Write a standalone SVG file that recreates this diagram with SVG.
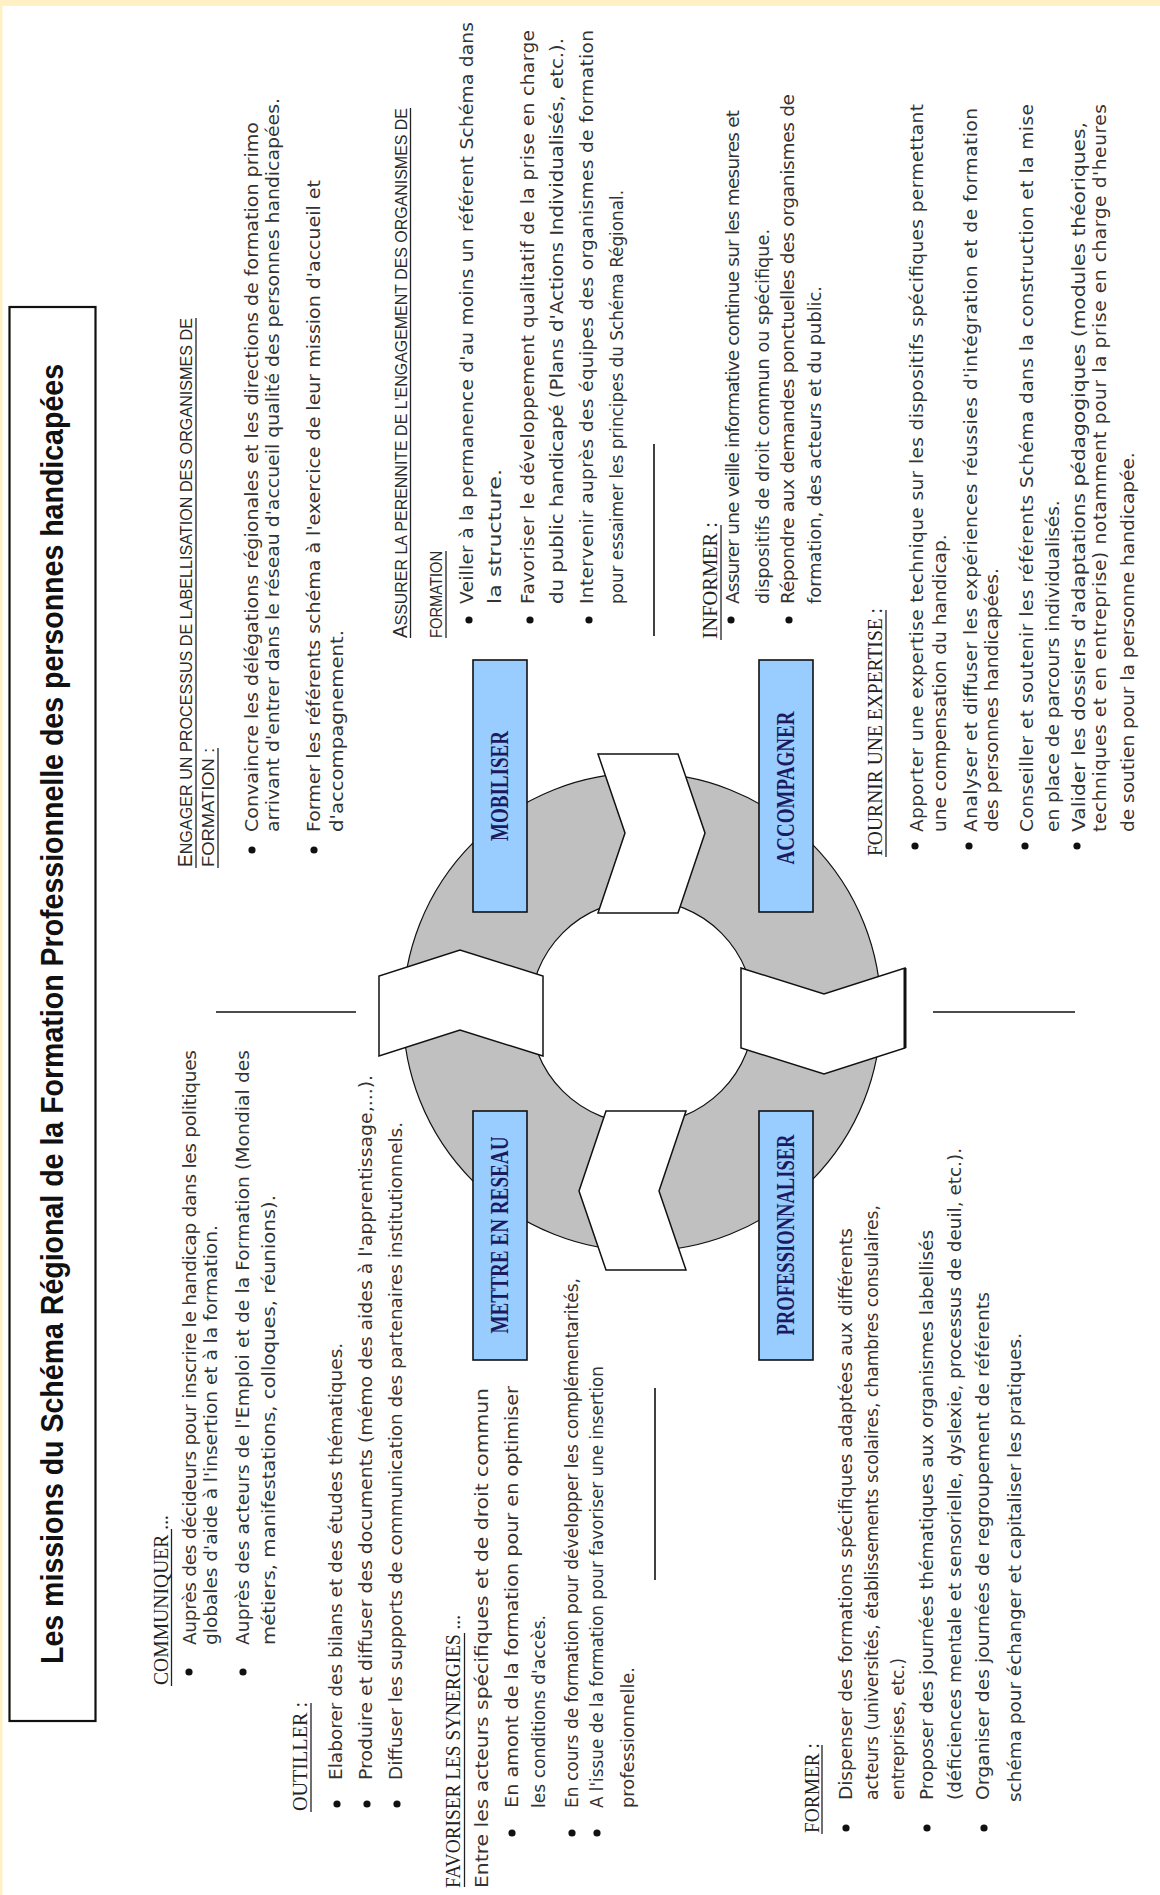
<svg xmlns="http://www.w3.org/2000/svg" width="1160" height="1895" viewBox="0 0 1160 1895">
<style>
.b{font-family:"DejaVu Sans",sans-serif;font-size:18.5px;fill:#333}
.f{font-size:17.5px}
.h{font-family:"Liberation Serif",serif;font-size:20px;fill:#222}
.s{font-family:"Liberation Sans",sans-serif;font-size:17px;fill:#2a2a2a}
.t{font-family:"Liberation Sans",sans-serif;font-weight:bold;font-size:31px;fill:#111}
.lb{font-family:"Liberation Serif",serif;font-weight:bold;font-size:25px;fill:#1b1b5e}
.ul{stroke:#222;stroke-width:1.3}
.sep{stroke:#111;stroke-width:1.6}
.bu{fill:#111}
.box{fill:#99ccff;stroke:#111;stroke-width:1.6}
.chev{fill:#fff;stroke:#111;stroke-width:1.5;stroke-linejoin:miter}
</style>
<rect width="1160" height="1895" fill="#fff"/>
<rect width="1160" height="6" fill="#fff1c4"/>
<rect width="2.5" height="1895" fill="#fff1c4"/>

<g id="title">
<rect x="9.5" y="307" width="86" height="1414" fill="none" stroke="#111" stroke-width="2.2"/>
</g>

<g id="cycle">
<path d="M403,1012 a239,239 0 1,0 478,0 a239,239 0 1,0 -478,0 Z M530,1012 a112,112 0 1,1 224,0 a112,112 0 1,1 -224,0 Z" fill="#c0c0c0" fill-rule="evenodd" stroke="#111" stroke-width="1.2"/>
</g>

<g id="connectors">
<polygon class="chev" points="598,754 678,754 705,833 678,913 598,913 625,833"/>
<polygon class="chev" points="741,968 824,994 905,968 905,1048 824,1074 741,1048"/>
<line x1="905" y1="968" x2="905" y2="1048" stroke="#111" stroke-width="3"/>
<polygon class="chev" points="686,1270 606,1270 579,1191 606,1111 686,1111 659,1191"/>
<polygon class="chev" points="543,1056 460,1030 379,1056 379,976 460,950 543,976"/>
<line class="sep" x1="216" y1="1012" x2="356" y2="1012"/>
<line class="sep" x1="933" y1="1012" x2="1075" y2="1012"/>
<line class="sep" x1="654" y1="444" x2="654" y2="636"/>
<line class="sep" x1="655" y1="1388" x2="655" y2="1580"/>
</g>

<g id="node-mobiliser"><rect class="box" x="473" y="660" width="54" height="252"/></g>
<g id="node-accompagner"><rect class="box" x="759" y="660" width="54" height="252"/></g>
<g id="node-reseau"><rect class="box" x="473" y="1111" width="54" height="249"/></g>
<g id="node-professionnaliser"><rect class="box" x="759" y="1111" width="54" height="249"/></g>

<g id="underlines">
<line class="ul" x1="171.5" y1="1686" x2="171.5" y2="1529"/>
<line class="ul" x1="311" y1="1812" x2="311" y2="1703"/>
<line class="ul" x1="464.5" y1="1887" x2="464.5" y2="1633"/>
<line class="ul" x1="822" y1="1834" x2="822" y2="1745"/>
<line class="ul" x1="721" y1="640" x2="721" y2="525"/>
<line class="ul" x1="886" y1="857" x2="886" y2="610"/>
<line class="ul" x1="196" y1="868" x2="196" y2="318"/>
<line class="ul" x1="218" y1="868" x2="218" y2="748"/>
<line class="ul" x1="410.5" y1="638" x2="410.5" y2="108"/>
<line class="ul" x1="446" y1="638" x2="446" y2="551"/>
</g>

<g id="bullets">
<circle class="bu" cx="189" cy="1672" r="3.6"/>
<circle class="bu" cx="243" cy="1672" r="3.6"/>
<circle class="bu" cx="337" cy="1804" r="3.6"/>
<circle class="bu" cx="367" cy="1804" r="3.6"/>
<circle class="bu" cx="397" cy="1804" r="3.6"/>
<circle class="bu" cx="512" cy="1833" r="3.6"/>
<circle class="bu" cx="572" cy="1833" r="3.6"/>
<circle class="bu" cx="597" cy="1833" r="3.6"/>
<circle class="bu" cx="846" cy="1828" r="3.6"/>
<circle class="bu" cx="927" cy="1828" r="3.6"/>
<circle class="bu" cx="984" cy="1828" r="3.6"/>
<circle class="bu" cx="252" cy="850" r="3.6"/>
<circle class="bu" cx="314" cy="850" r="3.6"/>
<circle class="bu" cx="469" cy="620" r="3.6"/>
<circle class="bu" cx="530" cy="620" r="3.6"/>
<circle class="bu" cx="589" cy="620" r="3.6"/>
<circle class="bu" cx="731" cy="620" r="3.6"/>
<circle class="bu" cx="789" cy="620" r="3.6"/>
<circle class="bu" cx="915" cy="846" r="3.6"/>
<circle class="bu" cx="969" cy="846" r="3.6"/>
<circle class="bu" cx="1025" cy="846" r="3.6"/>
<circle class="bu" cx="1077" cy="846" r="3.6"/>
</g>

<g id="texts" transform="rotate(-90)">
<text class="t" x="-1014" y="63" text-anchor="middle" textLength="1300" lengthAdjust="spacingAndGlyphs">Les missions du Schéma Régional de la Formation Professionnelle des personnes handicapées</text>

<text class="lb" x="-786" y="508" text-anchor="middle" textLength="110" lengthAdjust="spacingAndGlyphs">MOBILISER</text>
<text class="lb" x="-788" y="794" text-anchor="middle" textLength="153" lengthAdjust="spacingAndGlyphs">ACCOMPAGNER</text>
<text class="lb" x="-1235" y="508" text-anchor="middle" textLength="197" lengthAdjust="spacingAndGlyphs">METTRE EN RESEAU</text>
<text class="lb" x="-1235" y="794" text-anchor="middle" textLength="201" lengthAdjust="spacingAndGlyphs">PROFESSIONNALISER</text>

<text class="h" x="-1685" y="168" textLength="170" lengthAdjust="spacingAndGlyphs">COMMUNIQUER ...</text>
<text class="b" x="-1645" y="196" textLength="595" lengthAdjust="spacing">Auprès des décideurs pour inscrire le handicap dans les politiques</text>
<text class="b" x="-1645" y="217">globales d'aide à l'insertion et à la formation.</text>
<text class="b" x="-1645" y="249" textLength="595" lengthAdjust="spacing">Auprès des acteurs de l'Emploi et de la Formation (Mondial des</text>
<text class="b" x="-1645" y="275" textLength="450" lengthAdjust="spacingAndGlyphs">métiers, manifestations, colloques, réunions).</text>

<text class="h" x="-1811" y="307" textLength="109" lengthAdjust="spacingAndGlyphs">OUTILLER :</text>
<text class="b" x="-1780" y="342">Elaborer des bilans et des études thématiques.</text>
<text class="b" x="-1780" y="372" textLength="705" lengthAdjust="spacingAndGlyphs">Produire et diffuser des documents (mémo des aides à l'apprentissage,...).</text>
<text class="b" x="-1780" y="402" textLength="658" lengthAdjust="spacingAndGlyphs">Diffuser les supports de communication des partenaires institutionnels.</text>

<text class="h" x="-1888" y="460" textLength="273" lengthAdjust="spacingAndGlyphs">FAVORISER LES SYNERGIES ...</text>
<text class="b f" x="-1888" y="488" textLength="500" lengthAdjust="spacingAndGlyphs">Entre les acteurs spécifiques et de droit commun</text>
<text class="b f" x="-1808" y="518" textLength="422" lengthAdjust="spacingAndGlyphs">En amont de la formation pour en optimiser</text>
<text class="b f" x="-1808" y="545" textLength="193" lengthAdjust="spacingAndGlyphs">les conditions d'accès.</text>
<text class="b f" x="-1808" y="578" textLength="530" lengthAdjust="spacingAndGlyphs">En cours de formation pour développer les complémentarités,</text>
<text class="b f" x="-1808" y="603" textLength="442" lengthAdjust="spacingAndGlyphs">A l'issue de la formation pour favoriser une insertion</text>
<text class="b f" x="-1808" y="634" textLength="141" lengthAdjust="spacingAndGlyphs">professionnelle.</text>

<text class="h" x="-1833" y="819" textLength="90" lengthAdjust="spacingAndGlyphs">FORMER :</text>
<text class="b" x="-1800" y="852" textLength="572" lengthAdjust="spacing">Dispenser des formations spécifiques adaptées aux différents</text>
<text class="b" x="-1800" y="878" textLength="595" lengthAdjust="spacingAndGlyphs">acteurs (universités, établissements scolaires, chambres consulaires,</text>
<text class="b" x="-1800" y="904" textLength="142" lengthAdjust="spacingAndGlyphs">entreprises, etc.)</text>
<text class="b" x="-1800" y="933" textLength="570" lengthAdjust="spacingAndGlyphs">Proposer des journées thématiques aux organismes labellisés</text>
<text class="b" x="-1800" y="961" textLength="652" lengthAdjust="spacingAndGlyphs">(déficiences mentale et sensorielle, dyslexie, processus de deuil, etc.).</text>
<text class="b" x="-1800" y="989" textLength="508" lengthAdjust="spacingAndGlyphs">Organiser des journées de regroupement de référents</text>
<text class="b" x="-1802" y="1021" textLength="469" lengthAdjust="spacingAndGlyphs">schéma pour échanger et capitaliser les pratiques.</text>

<text class="s" x="-867" y="192" textLength="549" lengthAdjust="spacingAndGlyphs"><tspan font-size="20">E</tspan>NGAGER UN PROCESSUS DE LABELLISATION DES ORGANISMES DE</text>
<text class="s" x="-867" y="214" textLength="119" lengthAdjust="spacingAndGlyphs">FORMATION :</text>
<text class="b" x="-832" y="258" textLength="710" lengthAdjust="spacingAndGlyphs">Convaincre les délégations régionales et les directions de formation primo</text>
<text class="b" x="-832" y="279" textLength="734" lengthAdjust="spacingAndGlyphs">arrivant d'entrer dans le réseau d'accueil qualité des personnes handicapées.</text>
<text class="b" x="-832" y="320" textLength="652" lengthAdjust="spacingAndGlyphs">Former les référents schéma à l'exercice de leur mission d'accueil et</text>
<text class="b" x="-832" y="343" textLength="202" lengthAdjust="spacingAndGlyphs">d'accompagnement.</text>

<text class="s" x="-638" y="407" textLength="530" lengthAdjust="spacingAndGlyphs"><tspan font-size="20">A</tspan>SSURER LA PERENNITE DE L'ENGAGEMENT DES ORGANISMES DE</text>
<text class="s" x="-638" y="442" textLength="87" lengthAdjust="spacingAndGlyphs">FORMATION</text>
<text class="b" x="-604" y="473" textLength="582" lengthAdjust="spacing">Veiller à la permanence d'au moins un référent Schéma dans</text>
<text class="b" x="-604" y="501" textLength="135" lengthAdjust="spacingAndGlyphs">la structure.</text>
<text class="b" x="-604" y="534" textLength="574" lengthAdjust="spacing">Favoriser le développement qualitatif de la prise en charge</text>
<text class="b" x="-604" y="563" textLength="566" lengthAdjust="spacingAndGlyphs">du public handicapé (Plans d'Actions Individualisés, etc.).</text>
<text class="b" x="-604" y="593" textLength="574" lengthAdjust="spacing">Intervenir auprès des équipes des organismes de formation</text>
<text class="b" x="-604" y="623" textLength="414" lengthAdjust="spacingAndGlyphs">pour essaimer  les principes du Schéma Régional.</text>

<text class="h" x="-639" y="717" textLength="117" lengthAdjust="spacingAndGlyphs"><tspan font-size="22">I</tspan>NFORMER :</text>
<text class="b" x="-604" y="739" textLength="494" lengthAdjust="spacing">Assurer une veille informative continue sur les mesures et</text>
<text class="b" x="-604" y="769" textLength="375" lengthAdjust="spacingAndGlyphs">dispositifs de droit commun ou spécifique.</text>
<text class="b" x="-604" y="794" textLength="510" lengthAdjust="spacing">Répondre aux demandes ponctuelles des organismes de</text>
<text class="b" x="-604" y="821" textLength="318" lengthAdjust="spacingAndGlyphs">formation, des acteurs et du public.</text>

<text class="h" x="-856" y="882" textLength="248" lengthAdjust="spacingAndGlyphs">FOURNIR UNE EXPERTISE :</text>
<text class="b" x="-832" y="923" textLength="728" lengthAdjust="spacing">Apporter une expertise technique sur les dispositifs spécifiques permettant</text>
<text class="b" x="-832" y="946">une compensation du handicap.</text>
<text class="b" x="-832" y="977" textLength="724" lengthAdjust="spacing">Analyser et diffuser les expériences réussies d'intégration et de formation</text>
<text class="b" x="-832" y="998">des personnes handicapées.</text>
<text class="b" x="-832" y="1033" textLength="728" lengthAdjust="spacing">Conseiller et soutenir les référents Schéma dans la construction et la mise</text>
<text class="b" x="-832" y="1059">en place de parcours individualisés.</text>
<text class="b" x="-832" y="1085" textLength="710" lengthAdjust="spacingAndGlyphs">Valider les dossiers d'adaptations pédagogiques (modules théoriques,</text>
<text class="b" x="-832" y="1106" textLength="728" lengthAdjust="spacing">techniques et en entreprise) notamment pour la prise en charge d'heures</text>
<text class="b" x="-832" y="1134">de soutien pour la personne handicapée.</text>
</g>
</svg>
